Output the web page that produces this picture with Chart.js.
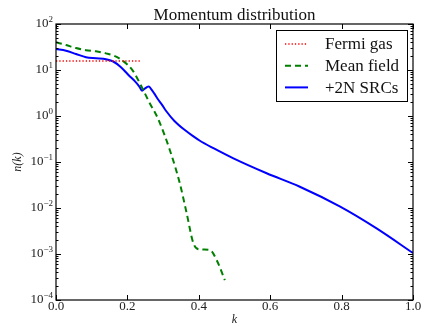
<!DOCTYPE html>
<html lang="en">
<head>
  <meta charset="UTF-8">
  <title>Momentum distribution</title>
  <script src="https://cdn.jsdelivr.net/npm/chart.js"></script>
  <style>
    html, body { margin: 0; padding: 0; background: #fff; }
    #wrap { width: 422px; height: 327px; }
  </style>
</head>
<body>
  <div id="wrap"><canvas id="momChart" width="422" height="327"></canvas></div>
  <script>
    // k values and n(k)
    const fermiK = [0.0, 0.24];
    const fermiN = [15.7, 15.7];

    const meanK = [0.0, 0.028, 0.056, 0.084, 0.112, 0.14, 0.163, 0.187, 0.215, 0.238,
                   0.261, 0.285, 0.319, 0.347, 0.366, 0.385, 0.403, 0.431, 0.45, 0.473];
    const meanN = [40, 35, 30, 27, 25.5, 23, 20.4, 15.9, 9.7, 4.6,
                   2.0, 0.9, 0.18, 0.034, 0.0077, 0.0017, 0.00126, 0.00122, 0.00074, 0.00027];

    const srcK = [0.0, 0.028, 0.056, 0.084, 0.112, 0.14, 0.159, 0.182, 0.205, 0.222,
                  0.234, 0.241, 0.248, 0.255, 0.26, 0.266, 0.275, 0.285, 0.297, 0.308,
                  0.331, 0.36, 0.385, 0.403, 0.441, 0.497, 0.59, 0.683, 0.796, 0.898, 1.0];
    const srcN = [28.6, 26.3, 22.3, 18.9, 18.0, 17.2, 15.5, 11.5, 7.5, 5.6,
                  4.3, 3.55, 3.9, 4.25, 4.4, 3.9, 3.1, 2.34, 1.75, 1.30,
                  0.79, 0.5, 0.36, 0.29, 0.2, 0.12, 0.057, 0.029, 0.0107, 0.0036, 0.00105];

    const xTicks = [0.0, 0.2, 0.4, 0.6, 0.8, 1.0];
    const yExponents = [-4, -3, -2, -1, 0, 1, 2];

    const serif = "'Liberation Serif', 'DejaVu Serif', serif";

    function pts(ks, ns) {
      return ks.map((k, i) => ({ x: k, y: ns[i] }));
    }

    // frame, inward ticks, tick labels, title and legend box
    const decorPlugin = {
      id: 'decor',
      afterDatasetsDraw(chart) {
        const { ctx, chartArea: a, scales: { x, y } } = chart;
        ctx.save();
        ctx.strokeStyle = '#000';
        ctx.lineWidth = 1.2;
        ctx.strokeRect(a.left, a.top, a.right - a.left, a.bottom - a.top);

        ctx.lineWidth = 1;
        ctx.beginPath();
        xTicks.forEach(v => {
          const px = Math.round(x.getPixelForValue(v)) + 0.5;
          ctx.moveTo(px, a.bottom); ctx.lineTo(px, a.bottom - 5);
          ctx.moveTo(px, a.top); ctx.lineTo(px, a.top + 5);
        });
        yExponents.forEach(e => {
          const py = Math.round(y.getPixelForValue(Math.pow(10, e))) + 0.5;
          ctx.moveTo(a.left, py); ctx.lineTo(a.left + 5, py);
          ctx.moveTo(a.right, py); ctx.lineTo(a.right - 5, py);
          if (e < yExponents[yExponents.length - 1]) {
            for (let m = 2; m <= 9; m++) {
              const pm = Math.round(y.getPixelForValue(m * Math.pow(10, e))) + 0.5;
              ctx.moveTo(a.left, pm); ctx.lineTo(a.left + 2.5, pm);
              ctx.moveTo(a.right, pm); ctx.lineTo(a.right - 2.5, pm);
            }
          }
        });
        ctx.stroke();

        // x tick labels
        ctx.fillStyle = '#222';
        ctx.font = '13px ' + serif;
        ctx.textAlign = 'center';
        ctx.textBaseline = 'middle';
        xTicks.forEach(v => {
          ctx.fillText(v.toFixed(1), x.getPixelForValue(v), a.bottom + 7);
        });

        // y tick labels: 10 with exponent
        ctx.textAlign = 'right';
        yExponents.forEach(e => {
          const py = y.getPixelForValue(Math.pow(10, e));
          const sup = e < 0 ? '\u2212' + Math.abs(e) : String(e);
          ctx.font = '9px ' + serif;
          const sw = ctx.measureText(sup).width;
          ctx.fillText(sup, a.left - 3, py - 4.5);
          ctx.font = '13px ' + serif;
          ctx.fillText('10', a.left - 3 - sw, py);
        });

        // title
        ctx.fillStyle = '#111';
        ctx.font = '17px ' + serif;
        ctx.textAlign = 'center';
        ctx.textBaseline = 'alphabetic';
        ctx.fillText('Momentum distribution', (a.left + a.right) / 2, a.top - 4);

        // legend
        const bw = 131, bh = 71;
        const bx = a.right - 6 - bw, by = a.top + 6;
        ctx.fillStyle = '#fff';
        ctx.fillRect(bx, by, bw, bh);
        ctx.strokeStyle = '#000';
        ctx.lineWidth = 1;
        ctx.strokeRect(bx + 0.5, by + 0.5, bw, bh);
        ctx.font = '17px ' + serif;
        ctx.textAlign = 'left';
        ctx.textBaseline = 'middle';
        chart.data.datasets.forEach((ds, i) => {
          const ry = by + 14 + i * 21.7;
          ctx.save();
          ctx.strokeStyle = ds.borderColor;
          ctx.lineWidth = ds.borderWidth;
          ctx.setLineDash(ds.borderDash || []);
          ctx.beginPath();
          ctx.moveTo(bx + 9, ry); ctx.lineTo(bx + 32, ry);
          ctx.stroke();
          ctx.restore();
          ctx.fillStyle = '#111';
          ctx.fillText(ds.label, bx + 49, ry + 1);
        });
        ctx.restore();
      }
    };

    const chart = new Chart(document.getElementById('momChart'), {
      type: 'line',
      data: {
        datasets: [
          {
            label: 'Fermi gas',
            data: pts(fermiK, fermiN),
            borderColor: '#ff0000',
            borderWidth: 1.3,
            borderDash: [1.3, 2],
            pointRadius: 0,
            tension: 0
          },
          {
            label: 'Mean field',
            data: pts(meanK, meanN),
            borderColor: '#008000',
            borderWidth: 2,
            borderDash: [6, 4],
            pointRadius: 0,
            cubicInterpolationMode: 'monotone'
          },
          {
            label: '+2N SRCs',
            data: pts(srcK, srcN),
            borderColor: '#0000ff',
            borderWidth: 2,
            pointRadius: 0,
            cubicInterpolationMode: 'monotone'
          }
        ]
      },
      options: {
        responsive: false,
        animation: false,
        layout: { padding: { left: 0, right: 9, top: 24, bottom: 0 } },
        plugins: {
          legend: { display: false },
          tooltip: { enabled: false },
          title: { display: false }
        },
        scales: {
          x: {
            type: 'linear',
            min: 0,
            max: 1,
            grid: { display: false, drawTicks: false },
            border: { display: false },
            afterFit: s => { s.height = 27; },
            ticks: { display: false },
            title: {
              display: true,
              text: 'k',
              color: '#222',
              font: { family: serif, size: 12, style: 'italic' },
              padding: { top: 0, bottom: 0 }
            }
          },
          y: {
            type: 'logarithmic',
            min: 1e-4,
            max: 1e2,
            grid: { display: false, drawTicks: false },
            border: { display: false },
            afterFit: s => { s.width = 56; },
            ticks: { display: false },
            title: {
              display: true,
              text: 'n(k)',
              color: '#222',
              font: { family: serif, size: 12, style: 'italic' },
              padding: { top: 11, bottom: 0 }
            }
          }
        }
      },
      plugins: [decorPlugin]
    });
  </script>
</body>
</html>
